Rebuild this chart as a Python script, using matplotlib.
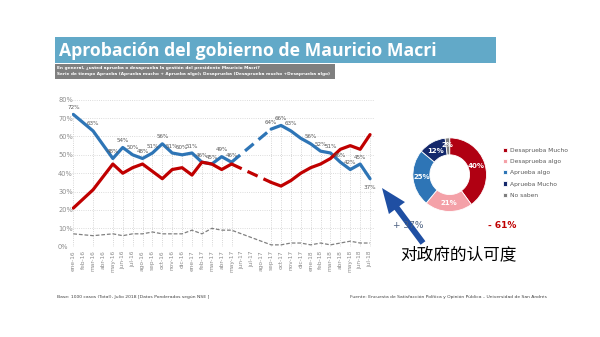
import matplotlib
matplotlib.use('Agg')
import matplotlib.pyplot as plt
from matplotlib.patches import Rectangle, FancyArrow

plt.rcParams['font.family'] = ['DejaVu Sans', 'Noto Sans CJK SC']

#-------------------------------------------
# datos
#-------------------------------------------
meses = ['ene-16', 'feb-16', 'mar-16', 'abr-16', 'may-16', 'jun-16', 'jul-16', 'ago-16',
         'sep-16', 'oct-16', 'nov-16', 'dic-16', 'ene-17', 'feb-17', 'mar-17', 'abr-17',
         'may-17', 'jun-17', 'jul-17', 'ago-17', 'sep-17', 'oct-17', 'nov-17', 'dic-17',
         'ene-18', 'feb-18', 'mar-18', 'abr-18', 'may-18', 'jun-18', 'jul-18']
# mes (posicion en meses) de cada medicion
medicion = [0, 2, 4, 5, 6, 7, 8, 9, 10, 11, 12, 13, 14, 15, 16,
            20, 21, 22, 23, 24, 25, 26, 27, 28, 29, 30]
aprueba = [72, 63, 48, 54, 50, 48, 51, 56, 51, 50, 51, 46, 45, 49, 46,
           64, 66, 63, 59, 56, 52, 51, 46, 42, 45, 37]
desaprueba = [21, 31, 45, 40, 43, 45, 41, 37, 42, 43, 39, 46, 45, 42, 45,
              35, 33, 36, 40, 43, 45, 48, 53, 55, 53, 61]
ns_nc = [7, 6, 7, 6, 7, 7, 8, 7, 7, 7, 9, 7, 10, 9, 9,
         1, 1, 2, 2, 1, 2, 1, 2, 3, 2, 2]
# etiquetas visibles de aprueba (None = sin etiqueta)
etiqueta_aprueba = ['72%', '63%', '48%', '54%', '50%', '48%', '51%', '56%', '51%', '50%', '51%',
                    '46%', '45%', '49%', '46%', '64%', '66%', '63%', None, '56%', '52%', '51%',
                    '46%', '42%', '45%', '37%']

dona_valores = [40, 21, 25, 12, 2]
dona_nombres = ['Desaprueba Mucho', 'Desaprueba algo', 'Aprueba algo', 'Aprueba Mucho', 'No saben']
dona_colores = ['#b00012', '#f4a1a8', '#2e75b6', '#14286b', '#7f7f7f']

W, H = 600, 337


def caja(x0, y0, x1, y1):
    # pixeles (arriba-izquierda) -> fraccion de figura
    return [x0 / W, 1 - y1 / H, (x1 - x0) / W, (y1 - y0) / H]


def ajustar_ancho(texto, ancho_px):
    # escala la fuente para que el texto ocupe ancho_px
    fig.canvas.draw()
    ancho = texto.get_window_extent().width
    texto.set_fontsize(texto.get_fontsize() * ancho_px / ancho)


fig = plt.figure(figsize=(6, 3.37), dpi=100)
fig.patch.set_facecolor('white')

#-------------------------------------------
# serie de tiempo
#-------------------------------------------
ax = fig.add_axes(caja(72, 99.7, 374, 246.7))
ax.set_xlim(-0.13, 30.4)
ax.set_ylim(0, 80)

# corte de la serie (hueco sin mediciones)
corte = [i for i in range(len(medicion) - 1) if medicion[i + 1] - medicion[i] > 2][0]

for serie, color, lw in [(aprueba, '#2e75b6', 2.3), (desaprueba, '#c00000', 2.3)]:
    ax.plot(medicion[:corte + 1], serie[:corte + 1], color=color, lw=lw, solid_capstyle='round', zorder=3)
    ax.plot(medicion[corte:corte + 2], serie[corte:corte + 2], color=color, lw=lw,
            linestyle=(0, (3.5, 2)), zorder=3)
    ax.plot(medicion[corte + 1:], serie[corte + 1:], color=color, lw=lw, solid_capstyle='round', zorder=3)

ax.plot(medicion, ns_nc, color='#808080', lw=0.9, linestyle=(0, (3, 1.5)), zorder=2)

tope = [max(a, d) for a, d in zip(aprueba, desaprueba)]
ax.vlines(medicion, 0, tope, colors='#c8c8c8', linestyles=':', lw=0.6, zorder=1)

for m, v, t in zip(medicion, aprueba, etiqueta_aprueba):
    if t is None:
        continue
    dy = -6 if t == '37%' else 5
    ax.annotate(t, (m, v), xytext=(0, dy), textcoords='offset points', ha='center', va='center',
                fontsize=4.1, color='#595959', zorder=4)

ax.set_yticks(range(0, 81, 10))
ax.set_yticklabels(['%d%%' % v for v in range(0, 81, 10)])
ax.set_xticks(range(len(meses)))
ax.set_xticklabels(meses, rotation=90)
ax.tick_params(axis='y', length=0, labelsize=4.8, labelcolor='#8c8c8c', pad=10)
ax.tick_params(axis='x', length=0, labelsize=4.2, labelcolor='#8c8c8c', pad=2.5)
for lab in ax.get_yticklabels():
    lab.set_horizontalalignment('left')
ax.yaxis.grid(True, color='#d0d0d0', linestyle=':', lw=0.6)
ax.set_axisbelow(True)
for s in ax.spines.values():
    s.set_visible(False)

#-------------------------------------------
# dona
#-------------------------------------------
axd = fig.add_axes(caja(403.7, 128.7, 495.7, 220.7))
wedges, textos, pcts = axd.pie(dona_valores, colors=dona_colores, startangle=90, counterclock=False,
                               radius=1, autopct='%d%%', pctdistance=0.76,
                               wedgeprops=dict(width=0.46, edgecolor='white', linewidth=0.6))
for p in pcts:
    p.set_color('white')
    p.set_fontsize(5.0)
    p.set_fontweight('bold')
pcts[-1].set_position((pcts[-1].get_position()[0] * 1.05, pcts[-1].get_position()[1] * 1.08))
pcts[-2].set_position((pcts[-2].get_position()[0] * 1.05, pcts[-2].get_position()[1] * 0.95))
axd.set_aspect('equal')

fig.legend(wedges, dona_nombres, loc='upper left', bbox_to_anchor=(503 / W, 1 - 148 / H),
           frameon=False, fontsize=4.3, labelcolor='#595959', handlelength=0.7, handleheight=0.7,
           handletextpad=0.5, labelspacing=1.0, borderpad=0, borderaxespad=0)

#-------------------------------------------
# titulos, notas y flecha
#-------------------------------------------
deco = fig.add_axes([0, 0, 1, 1], zorder=10)
deco.set_xlim(0, W)
deco.set_ylim(H, 0)
deco.axis('off')

deco.add_patch(Rectangle((55, 37.3), 441, 26, color='#62a9c8', lw=0))
titulo = deco.text(59, 51, 'Aprobación del gobierno de Mauricio Macri', color='white', fontsize=12,
                   fontweight='bold', family=['Open Sans', 'DejaVu Sans'], va='center', ha='left')
deco.add_patch(Rectangle((55, 64.3), 280, 15, color='#7f7f7f', lw=0))
sub1 = deco.text(57, 67.8, 'En general, ¿usted aprueba o desaprueba la gestión del presidente Mauricio Macri?',
                 color='white', fontsize=3.4, fontweight='bold', va='center', ha='left')
sub2 = deco.text(57, 74.3, 'Serie de tiempo Aprueba (Aprueba mucho + Aprueba algo); Desaprueba (Desaprueba mucho +Desaprueba algo)',
                 color='white', fontsize=3.4, fontweight='bold', va='center', ha='left')

pie1 = deco.text(57, 297, 'Base: 1000 casos (Total), Julio 2018 [Datos Ponderados según NSE ]',
                 fontsize=3.4, color='#404040', va='center', ha='left')
pie2 = deco.text(350, 297, 'Fuente: Encuesta de Satisfacción Política y Opinión Pública – Universidad de San Andrés',
                 fontsize=3.4, color='#404040', va='center', ha='left')

deco.text(393, 226, '+ 37%', fontsize=6.5, color='#4a5f80', va='center', ha='left')
deco.text(488, 226, '- 61%', fontsize=6.5, color='#c00000', fontweight='bold', va='center', ha='left')

deco.add_patch(FancyArrow(423, 243, -41, -55, width=6, head_width=20, head_length=25,
                          length_includes_head=True, color='#1f4fa3', lw=0))

deco.text(400, 255, '对政府的认可度', family=['Noto Sans CJK SC', 'DejaVu Sans'], fontsize=12,
          color='black', va='center', ha='left')

ajustar_ancho(titulo, 377)
ajustar_ancho(sub1, 200)
ajustar_ancho(sub2, 271)
ajustar_ancho(pie1, 153)
ajustar_ancho(pie2, 198)

fig.savefig('out.png', dpi=100)
